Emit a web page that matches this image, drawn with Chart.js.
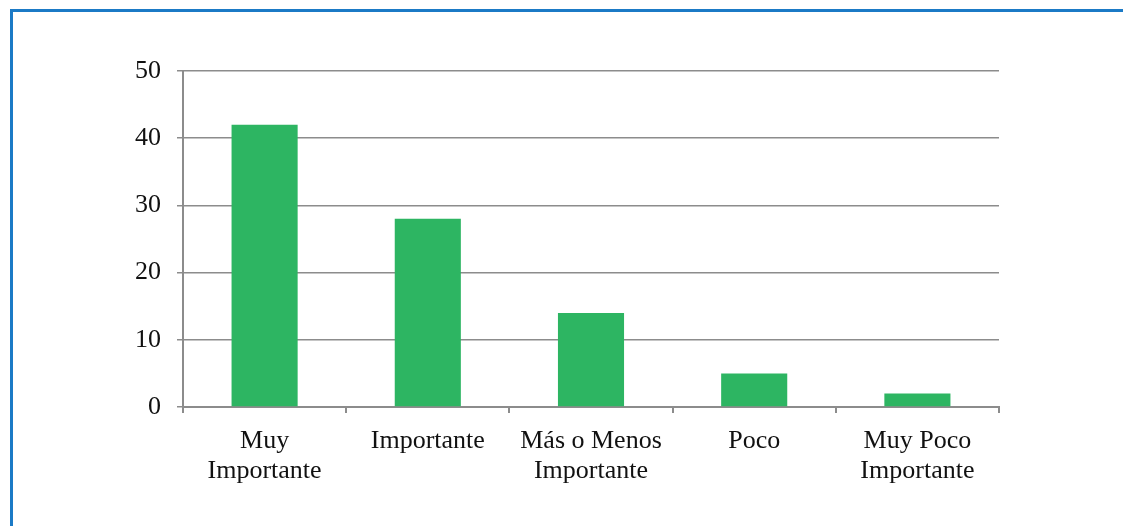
<!DOCTYPE html>
<html>
<head>
<meta charset="utf-8">
<script src="https://cdn.jsdelivr.net/npm/chart.js@4/dist/chart.umd.min.js"></script>
<style>
  html, body { margin: 0; padding: 0; background: #fff; overflow: hidden; }
  #wrap { position: relative; width: 1123px; height: 526px; }
  #frame {
    position: absolute; left: 10px; top: 9px; width: 1130px; height: 540px;
    border: 3px solid #1b7ac6; box-sizing: border-box;
  }
  canvas { position: absolute; left: 0; top: 0; }
</style>
</head>
<body>
<div id="wrap">
  <div id="frame"></div>
  <canvas id="myChart" width="1123" height="526"></canvas>
</div>
<script>
const categories = [
  ['Muy', 'Importante'],
  'Importante',
  ['Más o Menos', 'Importante'],
  'Poco',
  ['Muy Poco', 'Importante']
];
const values = [42, 28, 14, 5, 2];
const yTicks = [0, 10, 20, 30, 40, 50];

const gray = '#8c8c8c';
const font = { family: '"Liberation Serif", "Times New Roman", serif', size: 26, lineHeight: 1.17 };

const ctx = document.getElementById('myChart');

new Chart(ctx, {
  type: 'bar',
  data: {
    labels: categories,
    datasets: [{
      data: values,
      backgroundColor: '#2db562',
      barPercentage: 0.405,
      categoryPercentage: 1
    }]
  },
  options: {
    responsive: false,
    animation: false,
    layout: { padding: { top: 71, right: 124, left: 0, bottom: 0 } },
    plugins: { legend: { display: false }, tooltip: { enabled: false } },
    scales: {
      x: {
        grid: { drawOnChartArea: false, color: gray, lineWidth: 2, tickLength: 6, offset: true },
        border: { color: gray, width: 2 },
        ticks: { color: '#111', font: font, padding: 13, maxRotation: 0, autoSkip: false },
        afterFit: s => { s.height = 119; }
      },
      y: {
        min: 0,
        max: 50,
        afterBuildTicks: s => { s.ticks = yTicks.map(v => ({ value: v })); },
        grid: { color: gray, lineWidth: 1.5, tickLength: 6 },
        border: { color: gray, width: 2 },
        ticks: { color: '#111', font: font, padding: 16 },
        afterFit: s => { s.width = 183; }
      }
    }
  }
});
</script>
</body>
</html>
